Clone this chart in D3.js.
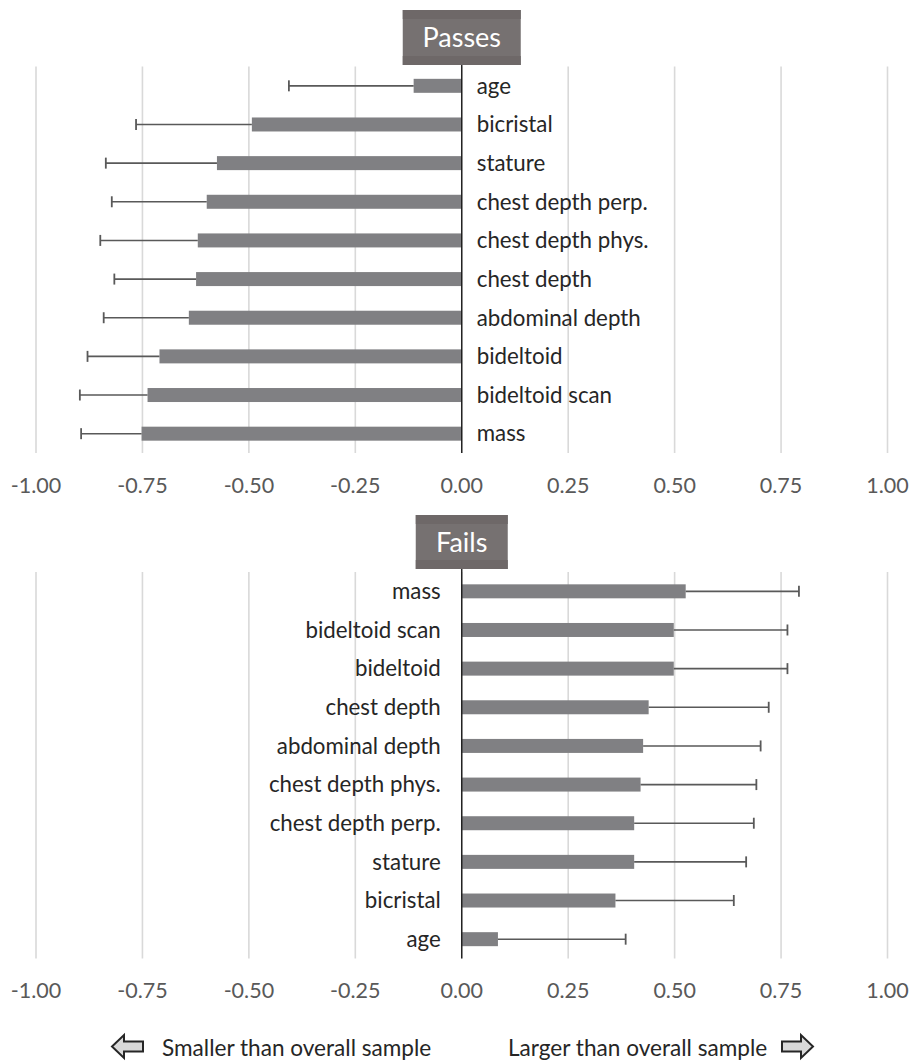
<!DOCTYPE html>
<html>
<head>
<meta charset="utf-8">
<script src="https://cdn.jsdelivr.net/npm/d3@7"></script>
<style>
  body { margin: 0; background: #fff; }
  svg { display: block; font-family: Lato, "Open Sans", sans-serif; }
</style>
</head>
<body>
<div id="chart"></div>
<script>
// values
const passesLabels = ['age','bicristal','stature','chest depth perp.','chest depth phys.','chest depth','abdominal depth','bideltoid','bideltoid scan','mass'];
const passesValues = [-0.113,-0.493,-0.575,-0.599,-0.620,-0.624,-0.641,-0.710,-0.738,-0.752];
const passesErr    = [0.293,0.272,0.261,0.223,0.229,0.192,0.200,0.169,0.159,0.142];

const failsLabels = ['mass','bideltoid scan','bideltoid','chest depth','abdominal depth','chest depth phys.','chest depth perp.','stature','bicristal','age'];
const failsValues = [0.526,0.498,0.498,0.439,0.426,0.420,0.405,0.405,0.361,0.085];
const failsErr    = [0.266,0.267,0.267,0.282,0.276,0.272,0.281,0.263,0.278,0.300];

const ticks = [-1,-0.75,-0.5,-0.25,0,0.25,0.5,0.75,1];

var width = 914, height = 1062;

var svg = d3.select("#chart")
  .append("svg")
  .attr("width", width)
  .attr("height", height);

var x = d3.scaleLinear()
  .domain([-1, 1])
  .range([36, 887.5]);

// plain hyphen like the original, not the unicode minus d3 uses
var fmt = function(d){ return d3.format(".2f")(d).replace("\u2212", "-"); };

function drawPanel(opts) {
  var rows = opts.labels.map(function(l, i){
    return {label: l, value: opts.values[i], err: opts.err[i]};
  });

  var y = d3.scaleBand()
    .domain(opts.labels)
    .range([opts.top, opts.bottom]);

  var g = svg.append("g");

  // gridlines
  g.selectAll(".grid")
    .data(ticks)
    .enter()
    .append("line")
      .attr("x1", function(d){ return x(d); })
      .attr("x2", function(d){ return x(d); })
      .attr("y1", opts.top)
      .attr("y2", opts.bottom)
      .style("stroke", "#d9d9d9")
      .style("stroke-width", 1.6);

  // tick labels
  g.selectAll(".tick")
    .data(ticks)
    .enter()
    .append("text")
      .attr("x", function(d){ return x(d); })
      .attr("y", opts.bottom + 32)
      .attr("dy", "0.35em")
      .attr("text-anchor", "middle")
      .style("font-size", "21.5px")
      .style("fill", "#595959")
      .text(fmt);

  var bh = 14;

  g.selectAll(".bar")
    .data(rows)
    .enter()
    .append("rect")
      .attr("x", function(d){ return Math.min(x(0), x(d.value)); })
      .attr("width", function(d){ return Math.abs(x(d.value) - x(0)); })
      .attr("y", function(d){ return y(d.label) + y.bandwidth()/2 - bh/2; })
      .attr("height", bh)
      .style("fill", "#808083");

  // error bars go away from zero
  var errEnd = function(d){ return d.value < 0 ? d.value - d.err : d.value + d.err; };

  g.selectAll(".errline")
    .data(rows)
    .enter()
    .append("line")
      .attr("x1", function(d){ return x(d.value); })
      .attr("x2", function(d){ return x(errEnd(d)); })
      .attr("y1", function(d){ return y(d.label) + y.bandwidth()/2; })
      .attr("y2", function(d){ return y(d.label) + y.bandwidth()/2; })
      .style("stroke", "#595959")
      .style("stroke-width", 1.6);

  g.selectAll(".errcap")
    .data(rows)
    .enter()
    .append("line")
      .attr("x1", function(d){ return x(errEnd(d)); })
      .attr("x2", function(d){ return x(errEnd(d)); })
      .attr("y1", function(d){ return y(d.label) + y.bandwidth()/2 - 5.5; })
      .attr("y2", function(d){ return y(d.label) + y.bandwidth()/2 + 5.5; })
      .style("stroke", "#595959")
      .style("stroke-width", 1.8);

  // zero axis
  g.append("line")
    .attr("x1", x(0)).attr("x2", x(0))
    .attr("y1", opts.boxBottom).attr("y2", opts.bottom)
    .style("stroke", "#1a1a1a")
    .style("stroke-width", 1.4);

  // category labels
  g.selectAll(".lab")
    .data(rows)
    .enter()
    .append("text")
      .attr("x", opts.labelSide === "right" ? x(0) + 15 : x(0) - 21)
      .attr("y", function(d){ return y(d.label) + y.bandwidth()/2; })
      .attr("dy", "0.35em")
      .attr("text-anchor", opts.labelSide === "right" ? "start" : "end")
      .style("font-size", "22.3px")
      .style("fill", "#262626")
      .text(function(d){ return d.label; });

  // title box
  var bx = x(0) - opts.boxWidth/2;
  var bhgt = opts.boxBottom - opts.boxTop;
  g.append("rect")
    .attr("x", bx).attr("y", opts.boxTop)
    .attr("width", opts.boxWidth).attr("height", bhgt)
    .style("fill", "#767171");
  g.append("rect")
    .attr("x", bx).attr("y", opts.boxTop)
    .attr("width", opts.boxWidth).attr("height", 9)
    .style("fill", "#6e6868");
  g.append("rect")
    .attr("x", bx).attr("y", opts.boxBottom - 9)
    .attr("width", opts.boxWidth).attr("height", 9)
    .style("fill", "#6e6868");
  g.append("text")
    .attr("x", x(0))
    .attr("y", opts.boxTop + bhgt/2)
    .attr("dy", "0.36em")
    .attr("text-anchor", "middle")
    .style("font-size", "27px")
    .style("fill", "#fff")
    .text(opts.title);
}

drawPanel({
  title: "Passes", labels: passesLabels, values: passesValues, err: passesErr,
  top: 66.5, bottom: 453, boxTop: 10, boxBottom: 65, boxWidth: 118, labelSide: "right"
});

drawPanel({
  title: "Fails", labels: failsLabels, values: failsValues, err: failsErr,
  top: 572, bottom: 958.5, boxTop: 515, boxBottom: 569, boxWidth: 92, labelSide: "left"
});

// footer: direction arrows
function arrow(cx, cy, dir) {
  // block arrow, pointing left (dir=-1) or right (dir=1)
  var w = 31, h = 23, head = 12, body = 10;
  var pts = [
    [-w/2, -body/2], [w/2 - head, -body/2], [w/2 - head, -h/2], [w/2, 0],
    [w/2 - head, h/2], [w/2 - head, body/2], [-w/2, body/2]
  ].map(function(p){ return [cx + dir*p[0], cy + p[1]]; });
  svg.append("path")
    .attr("d", d3.line()(pts) + "Z")
    .style("fill", "#d9d9d9")
    .style("stroke", "#262626")
    .style("stroke-width", 2)
    .style("stroke-linejoin", "miter");
}

arrow(127.5, 1046.5, -1);
arrow(797.5, 1046.5, 1);

svg.append("text")
  .attr("x", 162).attr("y", 1056)
  .style("font-size", "22.6px")
  .style("fill", "#262626")
  .text("Smaller than overall sample");

svg.append("text")
  .attr("x", 508).attr("y", 1056)
  .style("font-size", "22.6px")
  .style("fill", "#262626")
  .text("Larger than overall sample");
</script>
</body>
</html>
